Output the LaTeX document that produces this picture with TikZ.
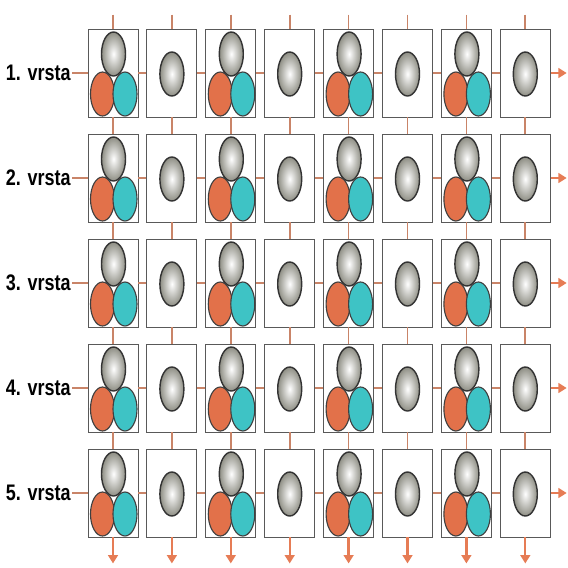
\documentclass[tikz,border=0pt]{standalone}
\usepackage{fontspec}
\newfontfamily\rowfont[FakeStretch=0.8]{Liberation Sans}
\usetikzlibrary{arrows.meta,positioning,shapes.geometric}
\definecolor{linkc}{HTML}{C98468}
\definecolor{tipc}{HTML}{E67C55}
\definecolor{redball}{HTML}{E2714A}
\definecolor{cyanball}{HTML}{3EC3C5}
\definecolor{greyrim}{HTML}{8E8E84}

\begin{document}
\begin{tikzpicture}[
  x=0.025cm, y=-0.025cm,
  cell/.style={draw=black!65, line width=0.6pt, minimum width=1.25cm, minimum height=2.2cm, inner sep=0pt, fill=white},
  ball/.style={ellipse, draw=black!75, line width=0.8pt, minimum width=0.6cm, minimum height=1.1cm, inner sep=0pt},
  grayball/.style={ball, draw=black!80, line width=1pt, inner color=white, outer color=greyrim},
  link/.style={draw=linkc, line width=1.2pt},
  hlink/.style={draw=linkc, line width=1.6pt},
  arr/.style={draw=tipc, line width=1.6pt, -{Triangle[width=7pt,length=6pt]}},
  rowlabel/.style={font=\rowfont\bfseries\fontsize{16}{18}\selectfont, inner sep=1pt}
]
\useasboundingbox (0,0) rectangle (568,568);

% cells with their balls
\foreach \r in {1,...,5} {
  \foreach \c in {1,...,8} {
    \pgfmathsetmacro\cx{113+(\c-1)*58.9}
    \pgfmathsetmacro\cy{73+(\r-1)*105}
    \node[cell] (box-\r-\c) at (\cx,\cy) {};
    \ifodd\c
      \node[grayball] (gray-\r-\c) at (\cx+0.5,\cy-19) {};
      \node[ball, fill=redball] (red-\r-\c) at (\cx-10.5,\cy+21) {};
      \node[ball, fill=cyanball] (cyan-\r-\c) at (\cx+12,\cy+21) {};
    \else
      \node[grayball] (gray-\r-\c) at (\cx,\cy+1) {};
    \fi
  }
}

% rows
\foreach \r in {1,...,5} {
  \node[rowlabel, left=0.38cm of box-\r-1] (lab-\r) {\r. vrsta};
  \draw[hlink] (lab-\r) -- (box-\r-1);
  \foreach \c [evaluate=\c as \n using int(\c+1)] in {1,...,7}
    \draw[hlink] (box-\r-\c) -- (box-\r-\n);
  \coordinate[right=0.4cm of box-\r-8] (out-\r);
  \draw[arr] (box-\r-8) -- (out-\r);
}

% columns
\foreach \c in {1,...,8} {
  \coordinate[above=0.35cm of box-1-\c] (top-\c);
  \draw[link] (top-\c) -- (box-1-\c);
  \foreach \r [evaluate=\r as \n using int(\r+1)] in {1,...,4}
    \draw[link] (box-\r-\c) -- (box-\n-\c);
  \coordinate[below=0.65cm of box-5-\c] (bot-\c);
  \draw[arr] (box-5-\c) -- (bot-\c);
}
\end{tikzpicture}
\end{document}
